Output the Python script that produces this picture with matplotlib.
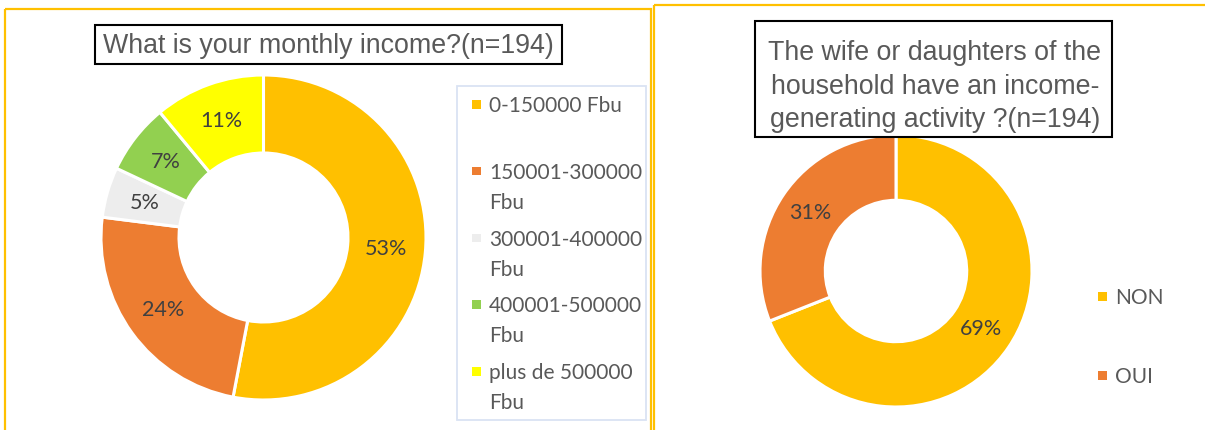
import textwrap
import matplotlib.pyplot as plt
from matplotlib.patches import Rectangle

W, H = 1205, 430

# data
income_labels = ['0-150000 Fbu', '150001-300000 Fbu', '300001-400000 Fbu',
                 '400001-500000 Fbu', 'plus de 500000 Fbu']
income_pct = [53, 24, 5, 7, 11]
activity_labels = ['NON', 'OUI']
activity_pct = [69, 31]

income_title = 'What is your monthly income?(n=194)'
activity_title = ['The wife or daughters of the',
                  'household have an income-',
                  'generating activity ?(n=194)']

income_colors = ['#FFC000', '#ED7D31', '#EDEDED', '#92D050', '#FFFF00']
activity_colors = ['#FFC000', '#ED7D31']

LABEL_FONT = 'Lato'
TITLE_FONT = 'Liberation Sans'
GOLD = '#FFC000'

fig = plt.figure(figsize=(W / 100, H / 100), dpi=100)


def donut(cx, cy, r, values, colors):
    """Draw a donut centred at pixel (cx, cy) with outer radius r."""
    pad = 1.05
    s = r * pad
    ax = fig.add_axes([(cx - s) / W, 1 - (cy + s) / H, 2 * s / W, 2 * s / H])
    ax.pie(values, colors=colors, startangle=90, counterclock=False,
           radius=1, autopct=lambda p: '{:.0f}%'.format(p), pctdistance=0.76,
           wedgeprops=dict(width=0.48, edgecolor='white', linewidth=2.2),
           textprops=dict(family=LABEL_FONT, fontsize=15.5, color='#404040'))
    ax.set_xlim(-pad, pad)
    ax.set_ylim(-pad, pad)
    ax.set_aspect('equal')
    return ax


donut(263.5, 237.5, 162.5, income_pct, income_colors)
donut(896, 271, 136, activity_pct, activity_colors)

# overlay in pixel coordinates for boxes, titles and legends
ov = fig.add_axes([0, 0, 1, 1], zorder=5)
ov.set_xlim(0, W)
ov.set_ylim(H, 0)
ov.axis('off')
ov.patch.set_alpha(0)

# panel borders
ov.add_patch(Rectangle((5, 9), 646, 430, fill=False, edgecolor=GOLD, lw=1.6))
ov.add_patch(Rectangle((654, 5), 560, 430, fill=False, edgecolor=GOLD, lw=1.6))

# titles
ov.add_patch(Rectangle((95, 25), 467, 39, facecolor='white', edgecolor='black', lw=1.5))
ov.text(328, 53, income_title, ha='center', va='baseline',
        family=TITLE_FONT, fontsize=19.3, color='#595959')

ov.add_patch(Rectangle((755, 21), 357, 116, facecolor='white', edgecolor='black', lw=1.5))
for i, line in enumerate(activity_title):
    ov.text(935, 60 + i * 33.5, line, ha='center', va='baseline',
            family=TITLE_FONT, fontsize=19.3, color='#595959')

# legend of the income donut
ov.add_patch(Rectangle((457, 86), 189, 334, fill=False, edgecolor='#DAE3F3', lw=1.3))
for i, (lab, col) in enumerate(zip(income_labels, income_colors)):
    base = 112 + i * 66.8
    ov.add_patch(Rectangle((472, base - 12), 8.5, 8.5, facecolor=col, edgecolor='none'))
    lines = textwrap.wrap(lab, 14, break_on_hyphens=False)
    for j, line in enumerate(lines):
        ov.text(489, base + j * 30, line, ha='left', va='baseline',
                family=LABEL_FONT, fontsize=15, color='#595959')

# legend of the activity donut
for i, (lab, col) in enumerate(zip(activity_labels, activity_colors)):
    base = 304 + i * 79
    ov.add_patch(Rectangle((1098, base - 12), 8.5, 8.5, facecolor=col, edgecolor='none'))
    ov.text(1115, base, lab, ha='left', va='baseline',
            family=LABEL_FONT, fontsize=15, color='#595959')

fig.savefig('out.png', dpi=100)
